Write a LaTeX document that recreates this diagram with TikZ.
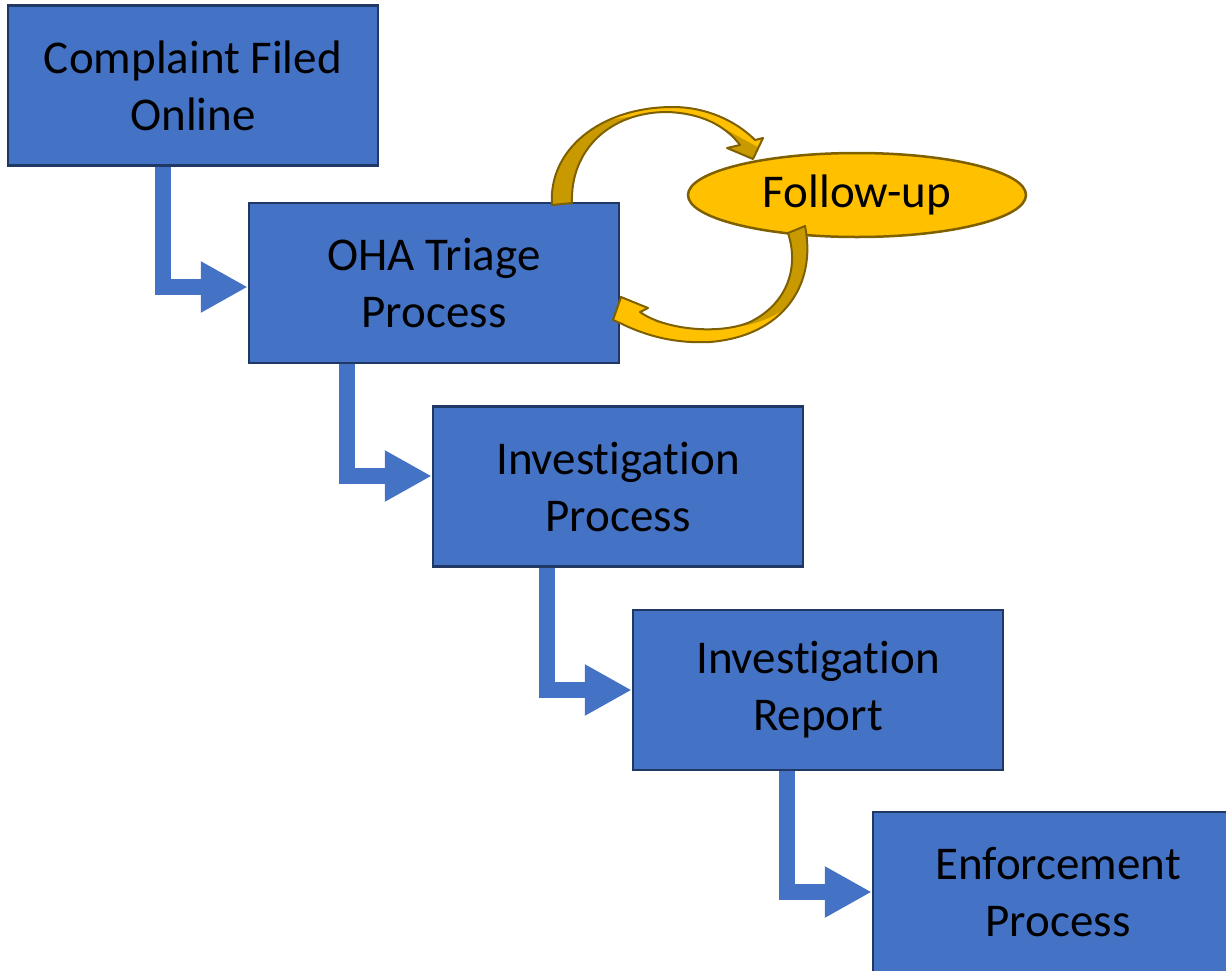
\documentclass[tikz,border=0pt]{standalone}
\usepackage{fontspec}
\setmainfont{Carlito}[Ligatures={NoCommon,NoContextual}, Contextuals=NoAlternate]
\usepackage{xcolor}
\usetikzlibrary{positioning,calc,arrows.meta,shapes.geometric,backgrounds}
\definecolor{boxblue}{HTML}{4472C4}
\definecolor{boxline}{HTML}{1F3864}
\definecolor{fugold}{HTML}{FFC000}
\definecolor{fudark}{HTML}{C99A00}
\definecolor{fuline}{HTML}{7F6000}
\tikzset{
    % Process style (Rectangle)
    stepbox/.style = {draw=boxline, fill=boxblue, line width=2.5pt, rectangle, minimum width=370pt, minimum height=160pt, inner sep=0, align=center, font=\fontsize{47pt}{57pt}\selectfont},
    % Follow-up style (ellipse)
    fuoval/.style = {draw=fuline, fill=fugold, line width=2.5pt, ellipse, minimum width=338pt, minimum height=84pt, inner sep=0, font=\fontsize{47pt}{57pt}\selectfont},
    % Elbow connection style (block arrows)
    elbowconc/.style = {draw=boxblue, line width=16.5pt, line join=miter, -{Triangle[length=47pt,width=48pt]}},
    % Curved arrow outline style
    curvearr/.style = {draw=fuline, line width=2pt, line join=round}
  }

\begin{document}
\begin{tikzpicture}[x=1pt, y=-1pt]
\clip (0,0) rectangle (1226,970);

\foreach \i/\x/\y/\txt in {filed/193/85.5/{Complaint Filed\\Online}, triage/434/283/{OHA Triage\\Process}, invproc/618/486.5/{Investigation\\Process}, invrep/818/690/{Investigation\\Report}, enforce/1058/892/{Enforcement\\Process}}
  \node [stepbox] (\i) at (\x,\y) {\txt};

\node [fuoval] (fu) at (857,195) {Follow-up};

\begin{scope}[on background layer]
\foreach \a/\b/\dy in {filed/triage/4, triage/invproc/-10.5, invproc/invrep/0, invrep/enforce/0}
{
  \coordinate (k\b) at ($(\b.west)+(-85,\dy)$);
  \coordinate (e\b) at ($(\b.west)+(0,\dy)$);
  \draw [elbowconc] (k\b |- \a.south) -- (k\b) -- (e\b);
}
\end{scope}

% loop arrow triage -> follow-up
\path [save path=\futop] (552,205) .. controls (548,150) and (600,107) .. (673,107) .. controls (705,107) and (735,120) .. (755,140) -- (763,138) -- (753,159) -- (727,148) -- (740,145) .. controls (725,125) and (700,113) .. (667,112) .. controls (610,112) and (570,150) .. (572,203) -- cycle;
\fill [fudark, use path=\futop];
\begin{scope}
  \clip [use path=\futop];
  \fill [fugold] (588,127) .. controls (620,114) and (660,113) .. (705,118) -- (800,170) -- (800,60) -- (588,60) -- cycle;
\end{scope}
\draw [curvearr, use path=\futop];

% loop arrow follow-up -> triage
\path [save path=\fubot] (805,226) .. controls (817,285) and (783,336) .. (710,342) .. controls (670,344) and (640,333) .. (620,323) -- (613,320) -- (621,297) -- (648,308) -- (640,312) .. controls (665,330) and (720,335) .. (750,322) .. controls (785,305) and (800,270) .. (788,233) -- cycle;
\fill [fudark, use path=\fubot];
\begin{scope}
  \clip [use path=\fubot];
  \fill [fugold] (790,305) .. controls (760,330) and (710,335) .. (655,322) -- (660,280) -- (600,280) -- (600,380) -- (790,380) -- cycle;
\end{scope}
\draw [curvearr, use path=\fubot];

\end{tikzpicture}
\end{document}
